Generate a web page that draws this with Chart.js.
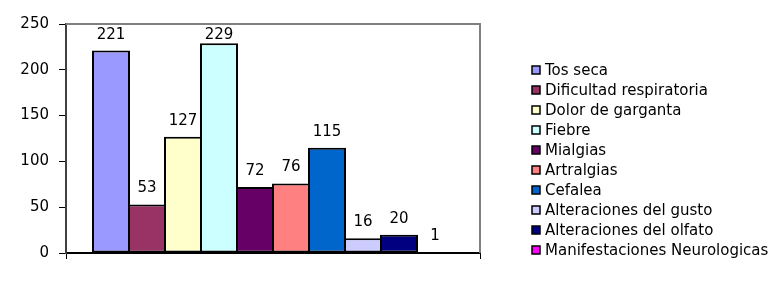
<!DOCTYPE html>
<html>
<head>
<meta charset="utf-8">
<script src="https://cdn.jsdelivr.net/npm/chart.js@4/dist/chart.umd.min.js"></script>
<style>
  html, body { margin: 0; padding: 0; background: #fff; }
  #wrap { width: 778px; height: 293px; }
</style>
</head>
<body>
<div id="wrap"><canvas id="symptomsChart" width="778" height="293"></canvas></div>
<script>
// Symptom counts, one bar per symptom

const symptoms = [
  'Tos seca', 'Dificultad respiratoria', 'Dolor de garganta', 'Fiebre', 'Mialgias',
  'Artralgias', 'Cefalea', 'Alteraciones del gusto', 'Alteraciones del olfato',
  'Manifestaciones Neurologicas'
];
const counts = [221, 53, 127, 229, 72, 76, 115, 16, 20, 1];
const colors = [
  '#9999FF', '#993366', '#FFFFCC', '#CCFFFF', '#660066',
  '#FF8080', '#0066CC', '#CCCCFF', '#000080', '#FF00FF'
];
const yTicks = [0, 50, 100, 150, 200, 250];

const FONT = 'Verdana, "DejaVu Sans", sans-serif';

// gray frame on top and right of the plot, like the Excel chart
const frame = {
  id: 'frame',
  beforeDatasetsDraw(chart) {
    const { ctx, chartArea: a } = chart;
    ctx.save();
    ctx.strokeStyle = '#808080';
    ctx.lineWidth = 2;
    ctx.beginPath();
    ctx.moveTo(a.left, a.top);
    ctx.lineTo(a.right, a.top);
    ctx.lineTo(a.right, a.bottom);
    ctx.stroke();
    ctx.restore();
  }
};

// value above each bar
const valueLabels = {
  id: 'valueLabels',
  afterDatasetsDraw(chart) {
    const { ctx, chartArea: a } = chart;
    ctx.save();
    ctx.font = '15px ' + FONT;
    ctx.fillStyle = '#000';
    ctx.textAlign = 'center';
    ctx.textBaseline = 'alphabetic';
    chart.data.datasets.forEach((ds, i) => {
      const bar = chart.getDatasetMeta(i).data[0];
      const y = Math.max(bar.y - 12, a.top + 15);
      ctx.fillText(ds.data[0], bar.x, y);
    });
    ctx.restore();
  }
};

// legend on the right, squares with black border
const sideLegend = {
  id: 'sideLegend',
  afterDraw(chart) {
    const { ctx } = chart;
    const x0 = 532, y0 = 70, step = 20, box = 8;
    ctx.save();
    ctx.font = '15px ' + FONT;
    ctx.textBaseline = 'alphabetic';
    ctx.textAlign = 'left';
    chart.data.datasets.forEach((ds, i) => {
      const y = y0 + i * step;
      ctx.fillStyle = ds.backgroundColor;
      ctx.fillRect(x0, y - box / 2, box, box);
      ctx.strokeStyle = '#000';
      ctx.lineWidth = 1.5;
      ctx.strokeRect(x0, y - box / 2, box, box);
      ctx.fillStyle = '#000';
      ctx.fillText(ds.label, x0 + 13, y + 5);
    });
    ctx.restore();
  }
};

// bars a little wider than their slot so neighbours share one border
const datasets = symptoms.map((name, i) => ({
  label: name,
  data: [counts[i]],
  backgroundColor: colors[i],
  borderColor: '#000',
  borderWidth: 2,
  borderSkipped: false,
  inflateAmount: 0,
  categoryPercentage: 360 / 414,
  barPercentage: 38 / 36
}));

new Chart(document.getElementById('symptomsChart'), {
  type: 'bar',
  data: { labels: [''], datasets },
  options: {
    responsive: false,
    animation: false,
    layout: { padding: { left: 0, right: 298, top: 24, bottom: 34 } },
    plugins: {
      legend: { display: false },
      tooltip: { enabled: false }
    },
    scales: {
      x: {
        offset: true,
        ticks: { display: false },
        grid: { drawOnChartArea: false, drawTicks: true, tickLength: 6, color: '#000', lineWidth: 1 },
        border: { color: '#000', width: 2 }
      },
      y: {
        min: 0,
        max: 250,
        afterBuildTicks(scale) {
          scale.ticks = yTicks.map(v => ({ value: v }));
        },
        afterFit(scale) { scale.width = 66; },
        ticks: {
          color: '#000',
          padding: 10,
          font: { family: FONT, size: 15 }
        },
        grid: { drawOnChartArea: false, drawTicks: true, tickLength: 7, color: '#000' },
        border: { color: '#404040', width: 2 }
      }
    }
  },
  plugins: [frame, valueLabels, sideLegend]
});
</script>
</body>
</html>
